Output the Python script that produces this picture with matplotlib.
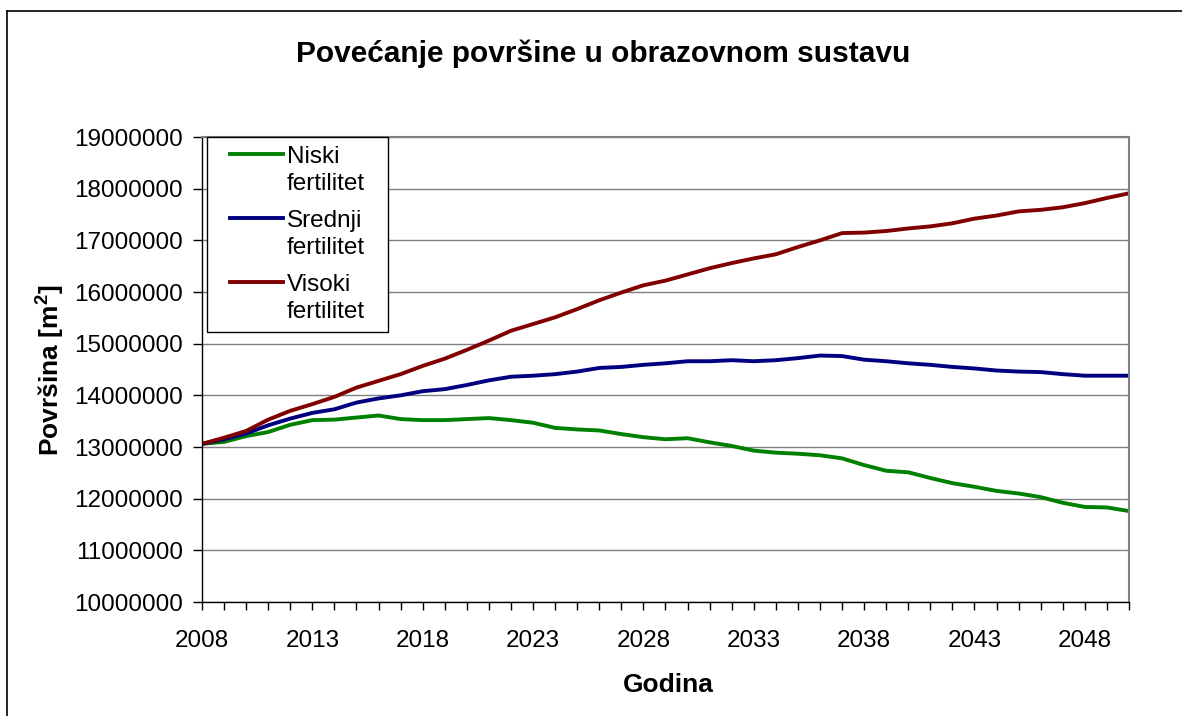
import matplotlib
matplotlib.use("Agg")
import matplotlib.pyplot as plt
from matplotlib.ticker import MultipleLocator, FuncFormatter
from matplotlib.legend_handler import HandlerLine2D
from matplotlib.lines import Line2D
from matplotlib.patches import Rectangle

plt.rcParams['font.family'] = ['Liberation Sans', 'DejaVu Sans']
plt.rcParams['mathtext.fontset'] = 'custom'
plt.rcParams['mathtext.rm'] = 'Liberation Sans'
plt.rcParams['mathtext.bf'] = 'Liberation Sans:bold'

# data
years = list(range(2008, 2051))
niski = [13060000, 13100000, 13210000, 13290000, 13430000, 13520000, 13530000, 13570000,
         13610000, 13540000, 13520000, 13520000, 13540000, 13560000, 13520000, 13470000,
         13370000, 13340000, 13320000, 13250000, 13190000, 13150000, 13170000, 13090000,
         13020000, 12930000, 12890000, 12870000, 12840000, 12780000, 12650000, 12540000,
         12510000, 12400000, 12300000, 12230000, 12150000, 12100000, 12030000, 11920000,
         11840000, 11830000, 11760000]
srednji = [13060000, 13150000, 13260000, 13420000, 13550000, 13660000, 13730000, 13860000,
           13940000, 14000000, 14080000, 14120000, 14200000, 14290000, 14360000, 14380000,
           14410000, 14460000, 14530000, 14550000, 14590000, 14620000, 14660000, 14660000,
           14680000, 14660000, 14680000, 14720000, 14770000, 14760000, 14690000, 14660000,
           14620000, 14590000, 14550000, 14520000, 14480000, 14460000, 14450000, 14410000,
           14380000, 14380000, 14380000]
visoki = [13060000, 13180000, 13310000, 13530000, 13700000, 13830000, 13970000, 14150000,
          14280000, 14410000, 14570000, 14710000, 14880000, 15060000, 15250000, 15380000,
          15510000, 15670000, 15840000, 15990000, 16130000, 16220000, 16340000, 16460000,
          16560000, 16650000, 16730000, 16870000, 17000000, 17140000, 17150000, 17180000,
          17230000, 17270000, 17330000, 17420000, 17480000, 17560000, 17590000, 17640000,
          17720000, 17820000, 17910000]

labels = ["Niski\nfertilitet", "Srednji\nfertilitet", "Visoki\nfertilitet"]
colors = ["#008000", "#000080", "#800000"]
year_ticks = list(range(2008, 2051, 5))
y_ticks = list(range(10000000, 19000001, 1000000))

W, H = 1182, 716
fig = plt.figure(figsize=(W / 100, H / 100), dpi=100)
ax = fig.add_axes([202 / W, 1 - 602 / H, (1129 - 202) / W, (602 - 137) / H])

for vals, lab, col in zip([niski, srednji, visoki], labels, colors):
    ax.plot(years, vals, color=col, lw=2.8, label=lab, solid_joinstyle='round')

ax.set_xlim(2008, 2050)
ax.set_ylim(10000000, 19000000)
ax.set_xticks(year_ticks)
ax.xaxis.set_minor_locator(MultipleLocator(1))
ax.set_yticks(y_ticks)
ax.yaxis.set_major_formatter(FuncFormatter(lambda v, p: f"{v:.0f}"))
ax.tick_params(axis='x', which='both', direction='out', length=6, width=1, labelsize=17.5, pad=14)
ax.tick_params(axis='y', direction='out', length=6.5, width=1, labelsize=17.5, pad=7)
ax.grid(axis='y', color='#808080', lw=1.0)
ax.set_axisbelow(True)
for s in ['top', 'right']:
    ax.spines[s].set_color('#808080')
    ax.spines[s].set_linewidth(1.5)
for s in ['left', 'bottom']:
    ax.spines[s].set_color('black')
    ax.spines[s].set_linewidth(1.0)


class FirstRowLine(HandlerLine2D):
    # put the legend line next to the first text row, with a gap on the left
    def create_artists(self, legend, orig_handle, xdescent, ydescent, width, height, fontsize, trans):
        arts = super().create_artists(legend, orig_handle, xdescent, ydescent, width, height, fontsize, trans)
        for a in arts:
            y0 = a.get_ydata()[0] + 0.68 * fontsize
            a.set_data([width - 2.15 * fontsize, width], [y0, y0])
        return arts


leg = ax.legend(loc='upper left', bbox_to_anchor=(0.0097, 1.0), borderaxespad=0,
                fontsize=17.5, frameon=False, handlelength=2.6, handletextpad=0.17,
                borderpad=0.35, labelspacing=0.6,
                handler_map={Line2D: FirstRowLine()})
for t in leg.get_texts():
    t.set_linespacing(1.32)
leg.set_zorder(6)

fig.text(603 / W, 1 - 54 / H, "Povećanje površine u obrazovnom sustavu",
         fontsize=21.5, fontweight='bold', ha='center', va='center')
fig.text(50 / W, 1 - 370 / H, r"Površina [m$^{\mathbf{2}}$]", fontsize=19, fontweight='bold',
         rotation=90, ha='center', va='center')
fig.text(668 / W, 1 - 685 / H, "Godina", fontsize=19, fontweight='bold',
         ha='center', va='center')

# legend box: extra room on the right like the original
fig.canvas.draw()
bb = leg.get_window_extent()
x0 = 207
y_top = H - 137
box = Rectangle((x0 / W, bb.y0 / H), (bb.x1 + 15 - x0) / W, (y_top - bb.y0) / H,
                transform=fig.transFigure, facecolor='white', edgecolor='black',
                lw=1.0, zorder=5, clip_on=False)
ax.add_artist(box)

# outer chart border (top and left visible)
fig.add_artist(Line2D([7.3 / W, 1], [1 - 10.7 / H, 1 - 10.7 / H], color='black', lw=1.2,
                      transform=fig.transFigure))
fig.add_artist(Line2D([7.3 / W, 7.3 / W], [0, 1 - 10.7 / H], color='black', lw=1.2,
                      transform=fig.transFigure))

fig.savefig("out.png", dpi=100)
